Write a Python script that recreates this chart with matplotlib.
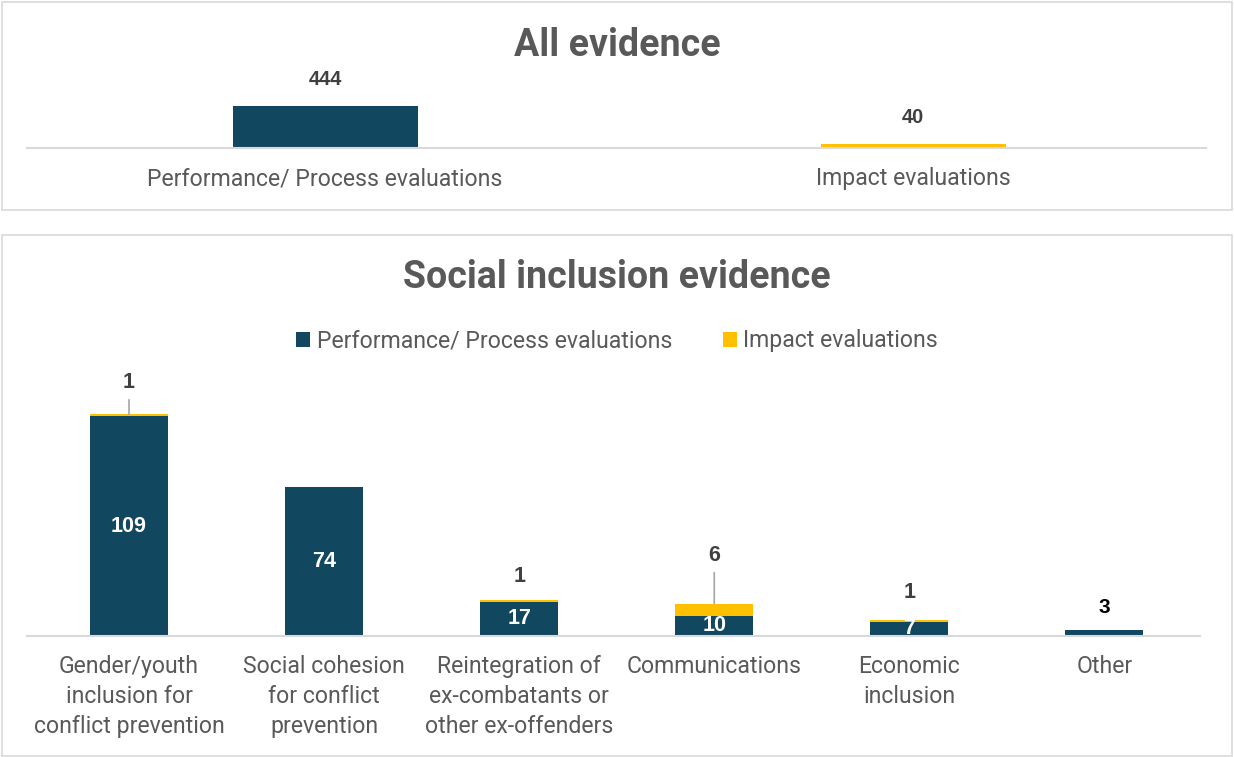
import matplotlib.pyplot as plt
from matplotlib.patches import Rectangle

# data
all_cats = ['Performance/ Process evaluations', 'Impact evaluations']
all_vals = [444, 40]

topics = ['Gender/youth\ninclusion for\nconflict prevention',
          'Social cohesion\nfor conflict\nprevention',
          'Reintegration of\nex-combatants or\nother ex-offenders',
          'Communications',
          'Economic\ninclusion',
          'Other']
perf_vals = [109, 74, 17, 10, 7, 3]
impact_vals = [1, 0, 1, 6, 1, 0]

# colours / fonts
navy = '#124760'
gold = '#FFC000'
grey_txt = '#595959'
dark_txt = '#404040'
line_grey = '#D9D9D9'
plt.rcParams['font.family'] = ['Roboto', 'DejaVu Sans']
num_font = ['Liberation Sans', 'DejaVu Sans']

W, H = 1234, 757
fig = plt.figure(figsize=(W / 100, H / 100), dpi=100)


def fx(px):
    return px / W


def fy(py):
    return 1 - py / H


# panel frames
for (x0, y0, x1, y1) in [(2, 2, 1232, 210), (2, 235, 1232, 756)]:
    fig.patches.append(Rectangle((fx(x0), fy(y1)), fx(x1 - x0), (y1 - y0) / H,
                                 transform=fig.transFigure, fill=False,
                                 edgecolor=line_grey, linewidth=1.2))

# ---- top panel: all evidence
ax1 = fig.add_axes([fx(27), fy(148), fx(1179), 53 / H])
xs = range(len(all_cats))
ax1.bar(xs, all_vals, width=0.315, color=[navy, gold])
for x, v in zip(xs, all_vals):
    ax1.annotate(str(v), (x, v), xytext=(0, 19), textcoords='offset points',
                 ha='center', va='center', fontsize=14.5, fontweight='bold',
                 color=dark_txt, family=num_font)
ax1.set_xlim(-0.507, 1.498)
ax1.set_ylim(0, 560)
ax1.set_xticks(list(xs))
ax1.set_xticklabels(all_cats, fontsize=16.6, color=grey_txt)
ax1.tick_params(axis='x', length=0, pad=14)
ax1.set_yticks([])
for s in ['top', 'left', 'right']:
    ax1.spines[s].set_visible(False)
ax1.spines['bottom'].set_color(line_grey)
ax1.spines['bottom'].set_linewidth(1.5)
fig.text(0.5, fy(45), 'All evidence', ha='center', va='center',
         fontsize=27, fontweight='bold', color=grey_txt)

# ---- bottom panel: social inclusion evidence
ax2 = fig.add_axes([fx(27), fy(636), fx(1173), 246 / H])
xs = list(range(len(topics)))
b1 = ax2.bar(xs, perf_vals, width=0.4, color=navy,
             label='Performance/ Process evaluations')
b2 = ax2.bar(xs, impact_vals, width=0.4, bottom=perf_vals, color=gold,
             label='Impact evaluations')
ax2.set_xlim(-0.523, 5.49)
ax2.set_ylim(0, 122)

for x, p in zip(xs, perf_vals):
    if p >= 5:
        ax2.text(x, p / 2, str(p), ha='center', va='center', fontsize=15.5,
                 fontweight='bold', color='white', clip_on=True,
                 family=num_font)
    else:
        ax2.annotate(str(p), (x, p), xytext=(0, 16), textcoords='offset points',
                     ha='center', va='center', fontsize=15, fontweight='bold',
                     color='black', family=num_font)

# impact labels, leader lines where far from the bar
lead = [True, False, False, True, False, False]
offs = [23, 0, 17, 35, 20, 0]
for x, p, i, ld, o in zip(xs, perf_vals, impact_vals, lead, offs):
    if i == 0:
        continue
    kw = {}
    if ld:
        kw['arrowprops'] = dict(arrowstyle='-', color='#A6A6A6', lw=1.2,
                                shrinkA=3, shrinkB=0)
    ax2.annotate(str(i), (x, p + i), xytext=(0, o), textcoords='offset points',
                 ha='center', va='center', fontsize=15.5, fontweight='bold',
                 color=dark_txt, family=num_font, **kw)

ax2.set_xticks(xs)
ax2.set_xticklabels(topics, fontsize=16.6, color=grey_txt, linespacing=1.39)
ax2.tick_params(axis='x', length=0, pad=14)
ax2.set_yticks([])
for s in ['top', 'left', 'right']:
    ax2.spines[s].set_visible(False)
ax2.spines['bottom'].set_color(line_grey)
ax2.spines['bottom'].set_linewidth(1.5)

fig.text(0.5, fy(278), 'Social inclusion evidence', ha='center', va='center',
         fontsize=27, fontweight='bold', color=grey_txt)
fig.legend(handles=[b1, b2], loc='center', bbox_to_anchor=(fx(617), fy(341)),
           ncol=2, frameon=False, fontsize=16.6, handlelength=0.6,
           handleheight=0.6, handletextpad=0.3, columnspacing=2.2,
           labelcolor=grey_txt)

fig.savefig('out.png', dpi=100)
